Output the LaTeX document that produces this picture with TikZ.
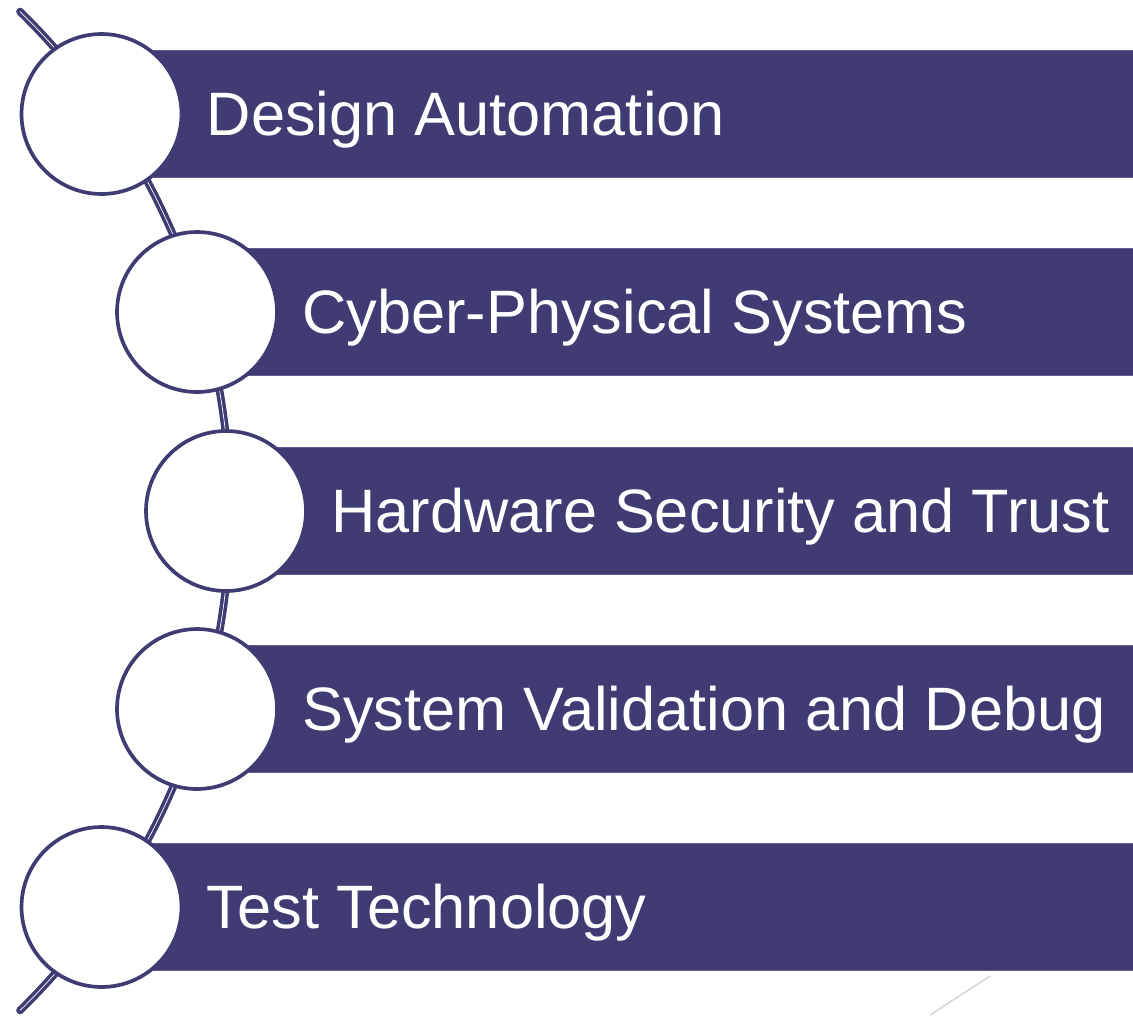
\documentclass[tikz,border=0pt]{standalone}
\usepackage{fontspec}
\setmainfont{Liberation Sans}

\definecolor{barblue}{RGB}{62,60,114}
\definecolor{baredge}{RGB}{96,94,144}

\tikzset{
  topicbar/.style={fill=barblue, draw=baredge, line width=0.3pt, minimum height=2.54cm, inner sep=0pt, anchor=west},
  topicdot/.style={circle, fill=white, draw=barblue, line width=2.1pt, minimum size=3.2cm, inner sep=0pt},
  topictext/.style={text=white, font=\fontsize{34.9}{40}\selectfont, anchor=base west, inner sep=0pt},
  backbone/.style={draw=barblue, double=white, double distance=0.4pt, line width=2pt, line cap=round}
}

\begin{document}
\begin{tikzpicture}[x=0.02cm, y=-0.02cm]

\useasboundingbox (0,0) rectangle (1133,1015);

% 1. The curved backbone behind the circles
\draw[backbone] (-469,511) ++(-45.6:699) arc (-45.6:45.6:699);

% 2. Bars, circles and their labels
\foreach \cx/\cy/\txt [count=\i] in {101.5/114/Design Automation,
    197/312/Cyber-Physical Systems,
    226/511/Hardware Security and Trust,
    197/709/System Validation and Debug,
    101.5/907/Test Technology} {
  \pgfmathsetmacro\barw{(1133-\cx)*0.02}
  \node[topicbar, minimum width=\barw cm] (bar\i) at (\cx,\cy) {};
  \node[topicdot] (dot\i) at (\cx,\cy) {};
  \node[topictext] (txt\i) at ({\cx+105},{\cy+21}) {\txt};
}

% 3. Faint stray line at the bottom right
\coordinate (scuffA) at (930,1015);
\coordinate (scuffB) at (990,976);
\draw[gray!35, line width=0.8pt] (scuffA) -- (scuffB);

\end{tikzpicture}
\end{document}
